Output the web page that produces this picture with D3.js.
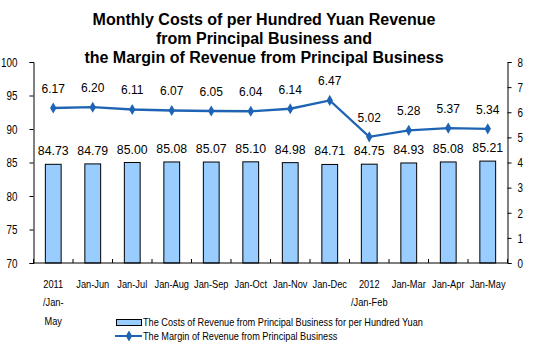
<!DOCTYPE html>
<html>
<head>
    <meta charset="utf-8">
    <title>costs and margin of revenue</title>
    <script type="text/javascript" src="https://d3js.org/d3.v7.min.js"></script>
    <style>
      body { margin: 0; background: #fff; }
      svg { display: block; font-family: "Liberation Sans", Arial, sans-serif; }
    </style>
</head>
<body>
<script type="text/javascript">

var months = ["2011/Jan-May", "Jan-Jun", "Jan-Jul", "Jan-Aug", "Jan-Sep", "Jan-Oct",
              "Jan-Nov", "Jan-Dec", "2012/Jan-Feb", "Jan-Mar", "Jan-Apr", "Jan-May"]
// multi line tick labels, as in the picture
var monthLines = [["2011", "/Jan-", "May"], ["Jan-Jun"], ["Jan-Jul"], ["Jan-Aug"], ["Jan-Sep"], ["Jan-Oct"],
                  ["Jan-Nov"], ["Jan-Dec"], ["2012", "/Jan-Feb"], ["Jan-Mar"], ["Jan-Apr"], ["Jan-May"]]
var costs = [84.73, 84.79, 85.00, 85.08, 85.07, 85.10, 84.98, 84.71, 84.75, 84.93, 85.08, 85.21]
var margin = [6.17, 6.20, 6.11, 6.07, 6.05, 6.04, 6.14, 6.47, 5.02, 5.28, 5.37, 5.34]
var leftTicks = [70, 75, 80, 85, 90, 95, 100]
var rightTicks = [0, 1, 2, 3, 4, 5, 6, 7, 8]
var titleLines = ["Monthly Costs of per Hundred Yuan Revenue",
                  "from Principal Business and",
                  "the Margin of Revenue from Principal Business"]
var legendCosts = "The Costs of Revenue from Principal Business for per Hundred Yuan"
var legendMargin = "The Margin of Revenue from Principal Business"

var width = 536, height = 354
// (not "top": that name is taken by window.top)
var pLeft = 33.5, pRight = 507.5, pTop = 62, pBottom = 263
var barColor = "#99ccff", lineColor = "#1f64b4"
var squeeze = 0.82   // the small texts are a narrow face

var svg = d3.select("body").append("svg").attr("width", width).attr("height", height)

var x = d3.scaleBand().domain(months).range([pLeft, pRight]).paddingInner(0.6).paddingOuter(0.3)
var yL = d3.scaleLinear().domain([70, 100]).range([pBottom, pTop])
var yR = d3.scaleLinear().domain([0, 8]).range([pBottom, pTop])
var cx = function(i){ return x(months[i]) + x.bandwidth() / 2 }

// title
svg.append("g").selectAll("text")
    .data(titleLines)
    .enter()
    .append("text")
    .attr("x", 264)
    .attr("y", function(d, i){ return 25 + i * 19 })
    .attr("text-anchor", "middle")
    .attr("font-size", 16)
    .attr("font-weight", "bold")
    .text(function(d){ return d })

// bars
svg.append("g").selectAll("rect")
    .data(costs)
    .enter()
    .append("rect")
    .attr("x", function(d, i){ return x(months[i]) })
    .attr("y", function(d){ return yL(d) })
    .attr("width", x.bandwidth())
    .attr("height", function(d){ return pBottom - yL(d) })
    .attr("fill", barColor)
    .attr("stroke", "#000")
    .attr("stroke-width", 1)

svg.append("g").selectAll("text")
    .data(costs)
    .enter()
    .append("text")
    .attr("x", function(d, i){ return cx(i) })
    .attr("y", function(d){ return yL(d) - 9 })
    .attr("text-anchor", "middle")
    .attr("font-size", 12.3)
    .text(function(d){ return d.toFixed(2) })

// axes
var axisL = svg.append("g")
    .attr("transform", "translate(" + pLeft + ",0)")
    .call(d3.axisLeft(yL).tickValues(leftTicks).tickSize(4))
var axisR = svg.append("g")
    .attr("transform", "translate(" + pRight + ",0)")
    .call(d3.axisRight(yR).tickValues(rightTicks).tickSize(4))
;[axisL, axisR].forEach(function(a){
    a.select(".domain").attr("stroke", "#000")
    a.selectAll(".tick line").attr("stroke", "#000")
    a.selectAll(".tick text").attr("font-size", 12).attr("fill", "#000")
        .style("font-family", "inherit").attr("dy", "0.36em")
})
axisL.selectAll(".tick text").attr("x", -16 / squeeze).attr("transform", "scale(" + squeeze + ",1)")
axisR.selectAll(".tick text").attr("x", 10 / squeeze).attr("transform", "scale(" + squeeze + ",1)")

// bottom axis line with tick marks between categories
svg.append("line")
    .attr("x1", pLeft).attr("x2", pRight).attr("y1", pBottom).attr("y2", pBottom)
    .attr("stroke", "#000")
var step = x.step()
var x0 = x(months[0]) - x.paddingOuter() * step
svg.append("g").selectAll("line")
    .data(d3.range(months.length + 1))
    .enter()
    .append("line")
    .attr("x1", function(d){ return x0 + d * step })
    .attr("x2", function(d){ return x0 + d * step })
    .attr("y1", pBottom).attr("y2", pBottom - 4)
    .attr("stroke", "#000")

var xl = svg.append("g").selectAll("text")
    .data(monthLines)
    .enter()
    .append("text")
    .attr("transform", function(d, i){ return "translate(" + cx(i) + ",288) scale(" + squeeze + ",1)" })
    .attr("text-anchor", "middle")
    .attr("font-size", 11.3)
xl.selectAll("tspan")
    .data(function(d){ return d })
    .enter()
    .append("tspan")
    .attr("x", 0)
    .attr("y", function(d, j){ return j * 18.5 })
    .text(function(d){ return d })

// margin line
var line = d3.line()
    .x(function(d, i){ return cx(i) })
    .y(function(d){ return yR(d) })
svg.append("path")
    .datum(margin)
    .attr("d", line)
    .attr("fill", "none")
    .attr("stroke", lineColor)
    .attr("stroke-width", 2.3)

var diamond = d3.symbol().type(d3.symbolDiamond).size(36)
svg.append("g").selectAll("path")
    .data(margin)
    .enter()
    .append("path")
    .attr("d", diamond)
    .attr("transform", function(d, i){ return "translate(" + cx(i) + "," + yR(d) + ")" })
    .attr("fill", lineColor)

svg.append("g").selectAll("text")
    .data(margin)
    .enter()
    .append("text")
    .attr("x", function(d, i){ return cx(i) })
    .attr("y", function(d){ return yR(d) - 15 })
    .attr("text-anchor", "middle")
    .attr("font-size", 12)
    .text(function(d){ return d.toFixed(2) })

// legend
var lg = svg.append("g")
lg.append("rect")
    .attr("x", 116.5).attr("y", 319.5).attr("width", 25).attr("height", 6)
    .attr("fill", barColor).attr("stroke", "#000")
lg.append("text")
    .attr("transform", "translate(143,326) scale(" + squeeze + ",1)")
    .attr("font-size", 11.2)
    .text(legendCosts)
lg.append("line")
    .attr("x1", 115).attr("x2", 142).attr("y1", 336).attr("y2", 336)
    .attr("stroke", lineColor).attr("stroke-width", 2)
lg.append("path")
    .attr("d", diamond)
    .attr("transform", "translate(129,336)")
    .attr("fill", lineColor)
lg.append("text")
    .attr("transform", "translate(143,340) scale(" + squeeze + ",1)")
    .attr("font-size", 11.2)
    .text(legendMargin)

</script>
</body>
</html>
